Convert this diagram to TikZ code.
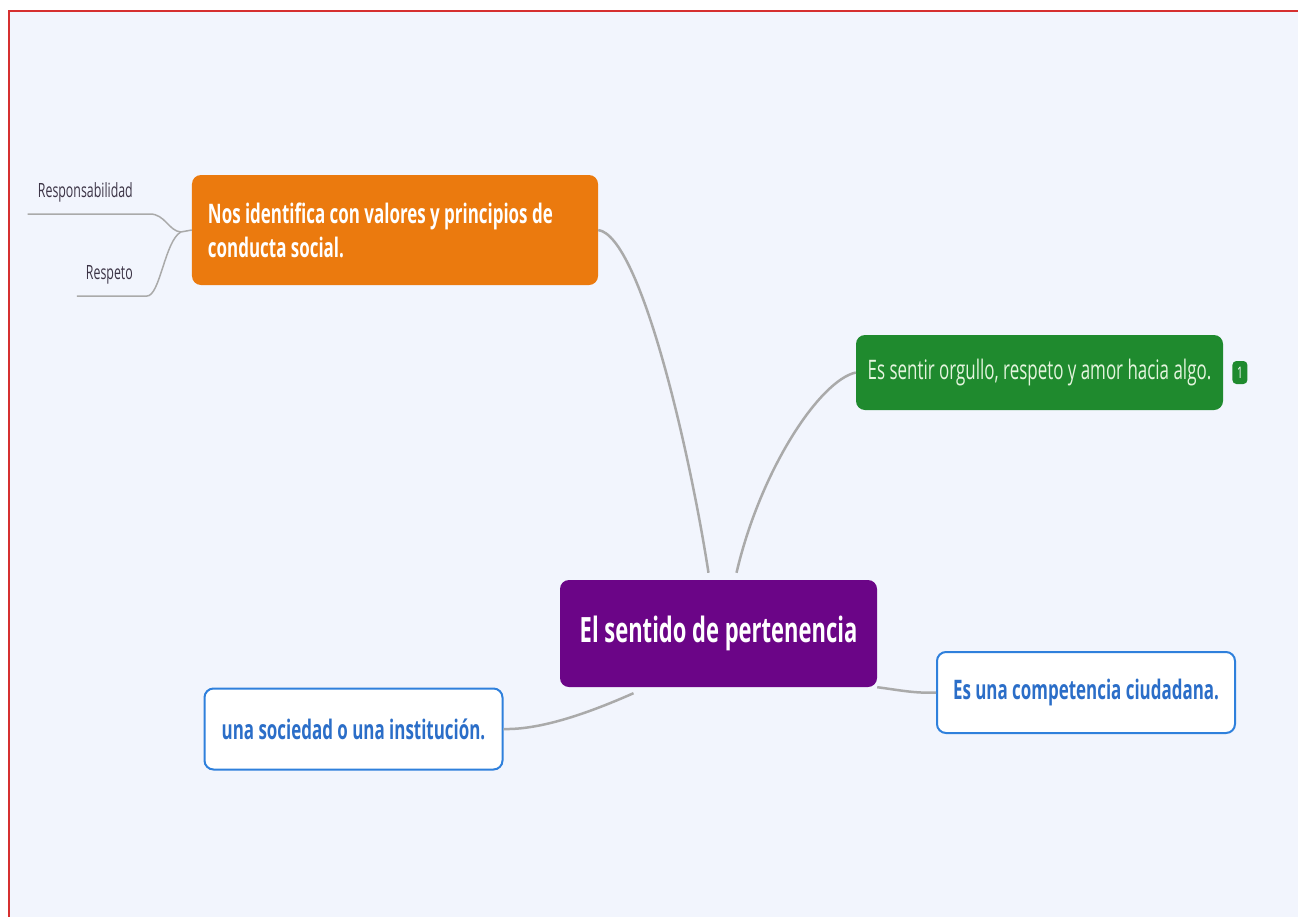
\documentclass[tikz,border=0pt]{standalone}
\usepackage{fontspec}
\setmainfont{Open Sans}[FakeStretch=0.63]
\usetikzlibrary{positioning}

\definecolor{canvas}{RGB}{242,245,253}
\definecolor{framered}{RGB}{214,48,48}
\definecolor{mmorange}{RGB}{235,122,14}
\definecolor{mmgreen}{RGB}{31,138,46}
\definecolor{mmpurple}{RGB}{107,5,135}
\definecolor{mmblue}{RGB}{47,128,220}
\definecolor{mmbluetext}{RGB}{43,110,200}
\definecolor{linkgray}{RGB}{170,170,170}
\definecolor{leaftext}{RGB}{60,52,70}

\begin{document}
\begin{tikzpicture}[x=1bp,y=-1bp,
    topic/.style={rounded corners=9bp,inner sep=0pt,align=center},
    main/.style={topic,fill=mmpurple,text=white,minimum width=317bp,minimum height=107bp,
      font=\bfseries\fontsize{35}{40}\selectfont},
    solid/.style={topic,text=white,font=\bfseries\fontsize{27}{34}\selectfont},
    outline/.style={topic,draw=mmblue,line width=2bp,fill=white,text=mmbluetext,
      minimum width=298bp,minimum height=81bp,font=\bfseries\fontsize{27}{32}\selectfont},
    leaf/.style={anchor=south east,inner xsep=17bp,inner ysep=12bp,text=leaftext,
      font=\fontsize{19.7}{22}\selectfont},
    link/.style={draw=linkgray,line width=2.5bp},
    leafline/.style={draw=linkgray,line width=1.5bp}]
  \useasboundingbox (0,0) rectangle (1298,917);
  \fill[white] (0,0) rectangle (1298,917);
  \fill[canvas] (9,11) rectangle (1298,917);
  \draw[framered,line width=2bp] (9,917) -- (9,11) -- (1298,11);

  \node[main] (center) at (718.5,633.5) {El sentido de pertenencia};
  \node[solid,fill=mmorange,align=flush left,text width=374bp,minimum width=406bp,minimum height=110bp]
    (values) at (395,230) {Nos identifica con valores y principios de\\conducta social.};
  \node[solid,fill=mmgreen,text={rgb,255:red,228;green,245;blue,222},font=\fontsize{27}{30}\selectfont,
    minimum width=367bp,minimum height=75bp] (pride) at (1039.5,372.5)
    {Es sentir orgullo, respeto y amor hacia algo.};
  \node[topic,fill=mmgreen,text=white,rounded corners=4bp,minimum width=15bp,minimum height=23bp,
    font=\fontsize{16}{16}\selectfont,right=9bp of pride] (count) {1};
  \node[outline] (civic) at (1086,692.5) {Es una competencia ciudadana.};
  \node[outline] (society) at (353.5,729) {una sociedad o una instituci\'on.};

  \node[leaf] (resp) at (150,214) {Responsabilidad};
  \node[leaf] (respect) at (150,296) {Respeto};
  \coordinate (join) at ([xshift=-11bp,yshift=-2bp]values.west);

  \draw[leafline] ([xshift=7bp]resp.south west) -- (resp.south east)
    .. controls +(15,0) and +(-12,-1) .. (join);
  \draw[leafline] ([xshift=8bp]respect.south west) -- ([xshift=-3bp]respect.south east)
    .. controls +(13,0) and +(-16,9) .. (join);
  \draw[leafline] (join) -- (values.west);

  \draw[link] (values.east) .. controls +(42,6) and +(-19,-123) .. ([xshift=-10bp,yshift=7bp]center.north);
  \draw[link] (pride.west) .. controls +(-36,8) and +(24,-103) .. ([xshift=18bp,yshift=7bp]center.north);
  \draw[link] (center.south east) .. controls +(23,3) and +(-21,1) .. (civic.west);
  \draw[link] ([xshift=-85bp,yshift=-6bp]center.south) .. controls +(-43,19) and +(38,1) .. (society.east);
\end{tikzpicture}
\end{document}
